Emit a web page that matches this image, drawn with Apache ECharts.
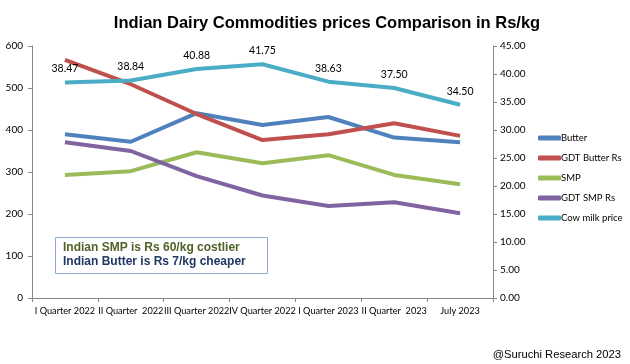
<!DOCTYPE html>
<html><head><meta charset="utf-8">
<script src="https://cdn.jsdelivr.net/npm/echarts@6/dist/echarts.min.js"></script>
<style>html,body{margin:0;padding:0;background:#fff}#c{width:630px;height:364px}</style>
</head><body><div id="c"></div>
<script>
const categories = ["I Quarter 2022","II Quarter  2022","III Quarter 2022","IV Quarter 2022","I Quarter 2023","II Quarter  2023","July 2023"];
const butter = [390, 372, 440, 412, 431, 382, 371];
const gdtButter = [567, 509, 438, 376, 390, 416, 386];
const smp = [293, 302, 347, 321, 340, 293, 271];
const gdtSmp = [371, 350, 290, 244, 219, 228, 202];
const cowMilk = [38.47, 38.84, 40.88, 41.75, 38.63, 37.50, 34.50];
const leftTicks = {min: 0, max: 600, interval: 100};
const rightTicks = {min: 0, max: 45, interval: 5};

const smallFont = "Lato,'Liberation Sans',sans-serif";
const chart = echarts.init(document.getElementById('c'));
const mk = (name, data, color, yi, labels) => ({
  name, type: 'line', data, yAxisIndex: yi, symbol: 'circle', symbolSize: 0.1, showSymbol: true,
  lineStyle: {color, width: 4}, itemStyle: {color},
  label: labels ? {show: true, position: 'top', distance: 8, color: '#000', fontSize: 10.5, fontFamily: smallFont, formatter: p => Number(p.value).toFixed(2)} : {show: false},
  emphasis: {disabled: true}
});
chart.setOption({
  animation: false,
  title: {text: 'Indian Dairy Commodities prices Comparison in Rs/kg', left: 322, textAlign: 'center', top: 10,
    textStyle: {fontSize: 16.5, fontWeight: 'bold', color: '#000', fontFamily: "'Liberation Sans',sans-serif"}},
  grid: {left: 32, right: 137, top: 46, bottom: 66},
  legend: {orient: 'vertical', left: 533, top: 128, itemGap: 10, itemWidth: 23, itemHeight: 5, icon: 'roundRect',
    textStyle: {fontSize: 9.5, color: '#000', fontFamily: smallFont, padding: [0,0,0,-5]},
    data: ['Butter','GDT Butter Rs','SMP','GDT SMP Rs','Cow milk price']},
  xAxis: {type: 'category', data: categories, boundaryGap: true,
    axisLine: {lineStyle: {color: '#888'}}, axisTick: {show: true, length: 4, lineStyle: {color: '#888'}},
    axisLabel: {color: '#000', fontSize: 9.2, fontFamily: smallFont, interval: 0, margin: 9}},
  yAxis: [
    {type: 'value', ...leftTicks, position: 'left',
      axisLine: {show: true, lineStyle: {color: '#888'}}, axisTick: {show: true, length: 4, lineStyle: {color: '#888'}},
      splitLine: {show: false}, axisLabel: {color: '#000', fontSize: 10, fontFamily: smallFont, margin: 9}},
    {type: 'value', ...rightTicks, position: 'right',
      axisLine: {show: true, lineStyle: {color: '#888'}}, axisTick: {show: true, length: 4, lineStyle: {color: '#888'}},
      splitLine: {show: false}, axisLabel: {color: '#000', fontSize: 10, fontFamily: smallFont, margin: 7, formatter: v => v.toFixed(2)}}
  ],
  series: [
    mk('Butter', butter, '#4F81BD', 0),
    mk('GDT Butter Rs', gdtButter, '#C0504D', 0),
    mk('SMP', smp, '#9BBB59', 0),
    mk('GDT SMP Rs', gdtSmp, '#8064A2', 0),
    mk('Cow milk price', cowMilk, '#4BACC6', 1, true)
  ],
  graphic: [
    {type: 'rect', left: 55, top: 237, shape: {width: 212, height: 36}, style: {fill: '#fff', stroke: '#8EAAD0', lineWidth: 1}},
    {type: 'text', left: 63, top: 242, style: {text: 'Indian SMP is Rs 60/kg costlier', fill: '#4F6228', font: "bold 12px 'Liberation Sans',sans-serif"}},
    {type: 'text', left: 63, top: 256, style: {text: 'Indian Butter is Rs 7/kg cheaper', fill: '#1F3864', font: "bold 12px 'Liberation Sans',sans-serif"}},
    {type: 'text', right: 9, top: 349, style: {text: '@Suruchi Research 2023', fill: '#000', font: "11.2px 'Liberation Sans',sans-serif"}}
  ]
});
</script></body></html>
